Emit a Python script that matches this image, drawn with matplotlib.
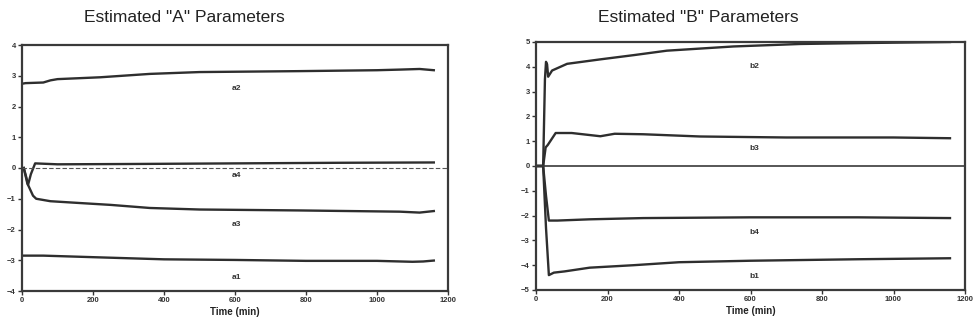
import numpy as np
import matplotlib.pyplot as plt

# ---- panel A ----
t_a2 = [5, 10, 60, 80, 100, 220, 360, 500, 780, 1000, 1064, 1120, 1160]
a2 = [2.75, 2.76, 2.78, 2.85, 2.89, 2.95, 3.06, 3.12, 3.15, 3.18, 3.2, 3.22, 3.18]

t_a4 = [5, 12, 17, 25, 37, 100, 300, 600, 900, 1160]
a4 = [0.0, -0.3, -0.55, -0.2, 0.15, 0.12, 0.13, 0.15, 0.17, 0.18]

t_a3 = [5, 15, 31, 40, 55, 80, 150, 250, 360, 500, 780, 1064, 1120, 1160]
a3 = [0.0, -0.5, -0.9, -1.0, -1.03, -1.08, -1.13, -1.2, -1.3, -1.35, -1.38, -1.42, -1.45, -1.4]

t_a1 = [5, 10, 60, 200, 400, 600, 800, 1000, 1100, 1130, 1160]
a1 = [-2.85, -2.85, -2.85, -2.9, -2.97, -2.99, -3.02, -3.02, -3.05, -3.04, -3.01]

a_labels = ["a2", "a4", "a3", "a1"]
a_label_t = [605, 605, 605, 605]
a_label_y = [2.6, -0.25, -1.85, -3.55]

# ---- panel B ----
t_b2 = [0, 20, 25, 28, 31, 34, 45, 87, 180, 273, 366, 552, 739, 925, 1158]
b2 = [0.0, 0.0, 3.5, 4.2, 4.1, 3.6, 3.85, 4.12, 4.3, 4.47, 4.65, 4.82, 4.92, 4.96, 5.0]

t_b3 = [0, 20, 27, 33, 55, 100, 180, 220, 300, 459, 700, 1000, 1158]
b3 = [0.0, 0.0, 0.75, 0.85, 1.33, 1.33, 1.2, 1.3, 1.28, 1.19, 1.15, 1.15, 1.12]

t_b4 = [0, 20, 28, 36, 60, 150, 300, 600, 900, 1158]
b4 = [0.0, 0.0, -1.2, -2.2, -2.2, -2.15, -2.1, -2.07, -2.07, -2.1]

t_b1 = [0, 20, 28, 36, 50, 80, 150, 273, 400, 600, 900, 1158]
b1 = [0.0, 0.0, -2.5, -4.4, -4.3, -4.25, -4.1, -4.0, -3.88, -3.82, -3.76, -3.72]

b_labels = ["b2", "b3", "b4", "b1"]
b_label_t = [610, 610, 610, 610]
b_label_y = [4.0, 0.7, -2.7, -4.45]

line_kw = dict(color="#2e2e2e", linewidth=1.7)
font = ["Liberation Sans", "DejaVu Sans"]

fig = plt.figure(figsize=(9.79, 3.31), dpi=100)
ax_a = fig.add_axes([22 / 979, 1 - 291 / 331, 426 / 979, 246 / 331])
ax_b = fig.add_axes([536 / 979, 1 - 290 / 331, 429 / 979, 248 / 331])

for t, y in [(t_a2, a2), (t_a4, a4), (t_a3, a3), (t_a1, a1)]:
    ax_a.plot(t, y, **line_kw)
ax_a.axhline(0, color="#555555", linewidth=0.8, linestyle=(0, (4, 2)))
for lab, x, y in zip(a_labels, a_label_t, a_label_y):
    ax_a.text(x, y, lab, ha="center", va="center", fontsize=6, fontweight="bold",
              family=font, color="#333333")
ax_a.set_ylim(-4, 4)
ax_a.set_yticks(np.arange(-4, 5, 1))

for t, y in [(t_b2, b2), (t_b3, b3), (t_b4, b4), (t_b1, b1)]:
    ax_b.plot(t, y, **line_kw)
ax_b.axhline(0, color="#3a3a3a", linewidth=1.2)
for lab, x, y in zip(b_labels, b_label_t, b_label_y):
    ax_b.text(x, y, lab, ha="center", va="center", fontsize=6, fontweight="bold",
              family=font, color="#333333")
ax_b.set_ylim(-5, 5)
ax_b.set_yticks(np.arange(-5, 6, 1))

for ax in (ax_a, ax_b):
    ax.set_xlim(0, 1200)
    ax.set_xticks(np.arange(0, 1201, 200))
    ax.tick_params(labelsize=5.5, length=3, width=1, colors="#333333", pad=1.5)
    for lbl in ax.get_xticklabels() + ax.get_yticklabels():
        lbl.set_family(font)
        lbl.set_fontweight("bold")
    for s in ax.spines.values():
        s.set_linewidth(1.6)
        s.set_color("#3a3a3a")
    ax.set_xlabel("Time (min)", fontsize=7, family=font, fontweight="bold",
                  color="#222222", labelpad=2)

fig.text(184 / 979, 1 - 18 / 331, 'Estimated "A" Parameters', ha="center", va="center",
         fontsize=12.5, family=font, color="#222222")
fig.text(698 / 979, 1 - 18 / 331, 'Estimated "B" Parameters', ha="center", va="center",
         fontsize=12.5, family=font, color="#222222")

fig.savefig("out.png", dpi=100)
